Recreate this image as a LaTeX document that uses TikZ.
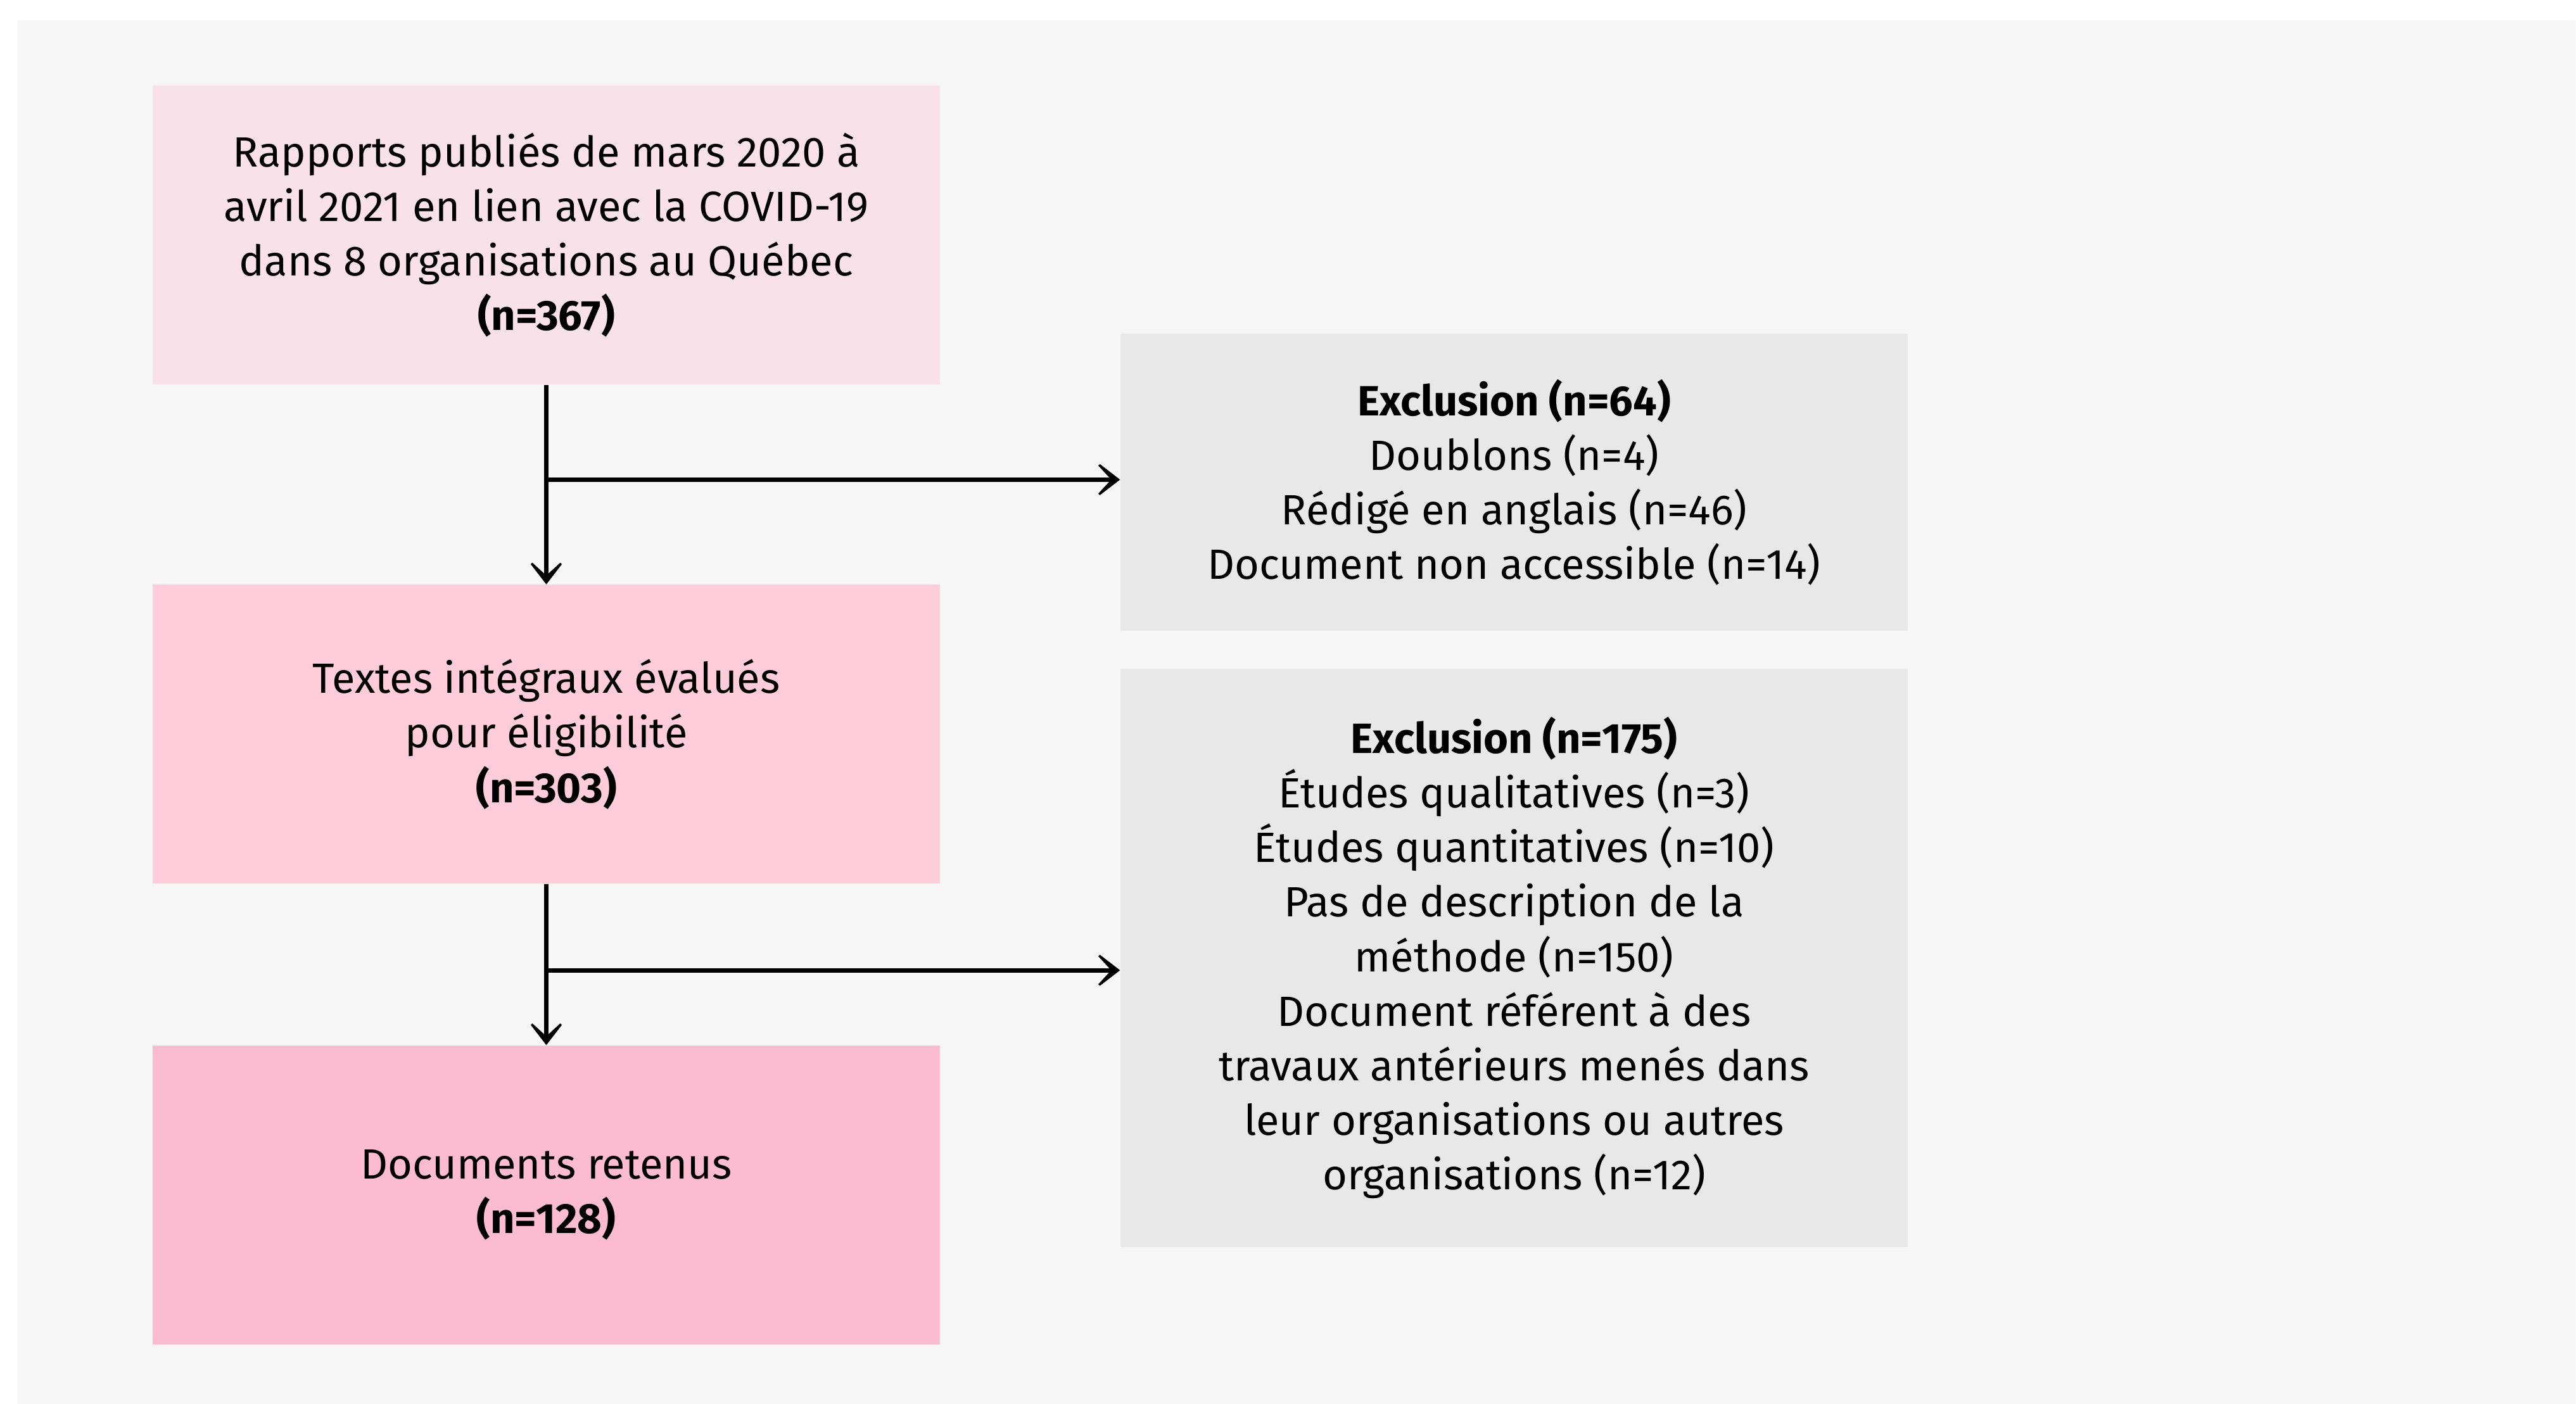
\documentclass[tikz,border=0pt]{standalone}
\usepackage{fontspec}
\setmainfont{Fira Sans}
\usetikzlibrary{arrows.meta,calc}

\definecolor{panelgray}{HTML}{F6F6F6}
\definecolor{pinkA}{HTML}{F8E1E9}
\definecolor{pinkB}{HTML}{FECCDB}
\definecolor{pinkC}{HTML}{FBBCD2}
\definecolor{exclgray}{HTML}{E8E8E8}

\tikzset{
	flowbox/.style={minimum width=12.43cm, minimum height=4.72cm, inner sep=0pt, align=center, font=\fontsize{19pt}{24.5pt}\selectfont},
	exclbox/.style={flowbox, fill=exclgray},
	flowarrow/.style={line width=2pt, -{Stealth[length=4.8mm, width=7.4mm, inset=3.4mm]}}
}

\begin{document}
\begin{tikzpicture}
		%%%%% START %%%%%
		
		\useasboundingbox[fill=white] (0, 0) rectangle (40.67, 22.17);
		\fill[panelgray] (0.27, 0) rectangle (40.66, 21.85);
		
		\node[flowbox, fill=pinkA] (rapports) at (8.625, 18.46) {Rapports publiés de mars 2020 à\\avril 2021 en lien avec la COVID-19\\dans 8 organisations au Québec\\\textbf{(n=367)}};
		\node[flowbox, fill=pinkB] (textes) at (8.625, 10.575) {Textes intégraux évalués\\pour éligibilité\\\textbf{(n=303)}};
		\node[flowbox, fill=pinkC] (retenus) at (8.625, 3.30) {Documents retenus\\\textbf{(n=128)}};
		
		\node[exclbox, minimum height=4.69cm] (exclA) at (23.905, 14.555) {\textbf{Exclusion (n=64)}\\Doublons (n=4)\\Rédigé en anglais (n=46)\\Document non accessible (n=14)};
		\node[exclbox, minimum height=9.13cm] (exclB) at (23.905, 7.045) {\textbf{Exclusion (n=175)}\\Études qualitatives (n=3)\\Études quantitatives (n=10)\\Pas de description de la\\méthode (n=150)\\Document référent à des\\travaux antérieurs menés dans\\leur organisations ou autres\\organisations (n=12)};
		
		\coordinate (splitA) at ($(rapports.south)!0.475!(textes.north)$);
		\coordinate (splitB) at ($(textes.south)!0.535!(retenus.north)$);
		
		\draw[flowarrow] (rapports.south) -- (textes.north);
		\draw[flowarrow] (splitA) -- (splitA -| exclA.west);
		
		\draw[flowarrow] (textes.south) -- (retenus.north);
		\draw[flowarrow] (splitB) -- (splitB -| exclB.west);
		
		%%%%% END %%%%%
	\end{tikzpicture}
\end{document}
